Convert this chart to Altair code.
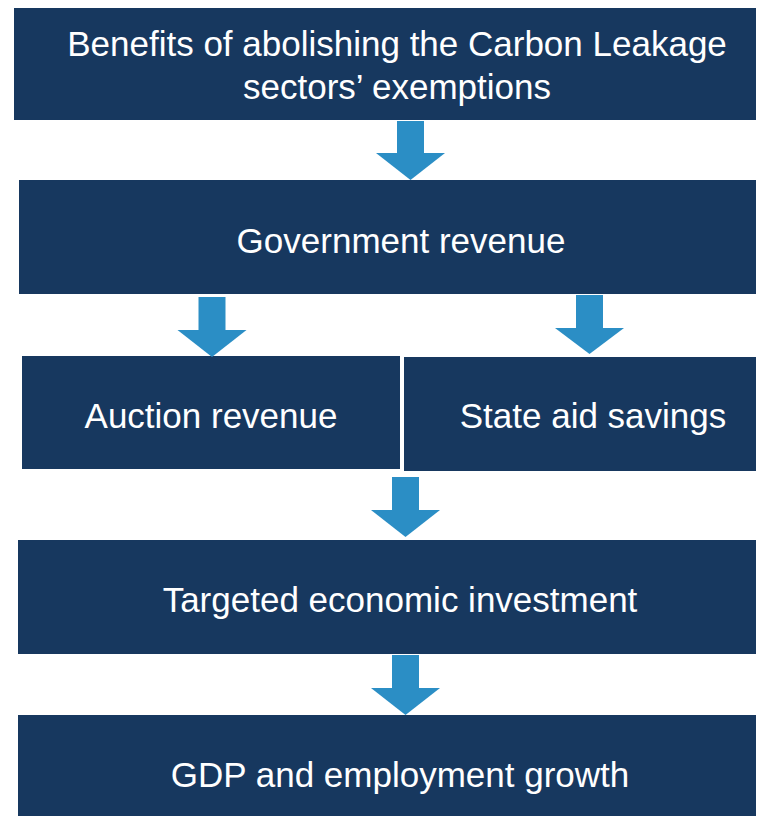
import altair as alt
import pandas as pd

# Boxes (reference pixel coordinates)
box_labels = ["Benefits of abolishing the Carbon Leakage\nsectors’ exemptions",
              "Government revenue", "Auction revenue", "State aid savings",
              "Targeted economic investment", "GDP and employment growth"]
box_x0 = [14, 19, 22, 404, 18, 18]
box_x1 = [764, 764, 400, 764, 764, 764]
box_y0 = [7, 180, 356, 357, 540, 715]
box_y1 = [120, 294, 469, 471, 654, 824]
label_x = [397, 401, 211, 593, 400, 400]
label_y = [44.5, 241.5, 416.5, 416.5, 600.5, 775.5]

# Arrows
arrow_cx = [410.5, 212, 589.5, 405.5, 405.5]
arrow_top = [121, 297, 295, 477, 655]
arrow_head = [153, 330, 328, 510, 688]
arrow_tip = [180, 357, 354, 537, 715]
shaft_half = 13.5
head_half = 34.5

NAVY = "#17385F"
BLUE = "#2B8EC5"

boxes = pd.DataFrame({"label": box_labels, "x0": box_x0, "x1": box_x1,
                      "y0": box_y0, "y1": box_y1, "lx": label_x, "ly": label_y})

shafts = pd.DataFrame({"id": list(range(len(arrow_cx))),
                       "x0": [c - shaft_half for c in arrow_cx],
                       "x1": [c + shaft_half for c in arrow_cx],
                       "y0": arrow_top, "y1": [h + 0.5 for h in arrow_head]})
head_rows = []
for i, (c, h, t) in enumerate(zip(arrow_cx, arrow_head, arrow_tip)):
    head_rows.append({"id": i, "y": h, "xl": c - head_half, "xr": c + head_half})
    head_rows.append({"id": i, "y": t, "xl": c, "xr": c})
heads = pd.DataFrame(head_rows)

W, H = 748, 808
xs = alt.Scale(domain=[8, 8 + W], nice=False, zero=False)
ys = alt.Scale(domain=[8, 8 + H], nice=False, zero=False, reverse=True)

rects = alt.Chart(boxes).mark_rect(color=NAVY, clip=True).encode(
    x=alt.X("x0:Q", scale=xs, axis=None), x2="x1:Q",
    y=alt.Y("y0:Q", scale=ys, axis=None), y2="y1:Q")

texts = alt.Chart(boxes).mark_text(color="white", font="Liberation Sans", fontSize=35,
                                   lineBreak="\n", lineHeight=43, baseline="middle",
                                   align="center").encode(
    x=alt.X("lx:Q", scale=xs, axis=None),
    y=alt.Y("ly:Q", scale=ys, axis=None),
    text="label:N")

shaft_marks = alt.Chart(shafts).mark_rect(color=BLUE).encode(
    x=alt.X("x0:Q", scale=xs, axis=None), x2="x1:Q",
    y=alt.Y("y0:Q", scale=ys, axis=None), y2="y1:Q")

head_marks = alt.Chart(heads).mark_area(color=BLUE, orient="horizontal", opacity=1).encode(
    y=alt.Y("y:Q", scale=ys, axis=None),
    x=alt.X("xl:Q", scale=xs, axis=None), x2="xr:Q",
    detail="id:N")

chart = alt.layer(rects, shaft_marks, head_marks, texts).properties(
    width=W, height=H, padding=0, background="white"
).configure_view(stroke=None)

chart.save("out.html", embed_options={"renderer": "svg", "actions": False})
